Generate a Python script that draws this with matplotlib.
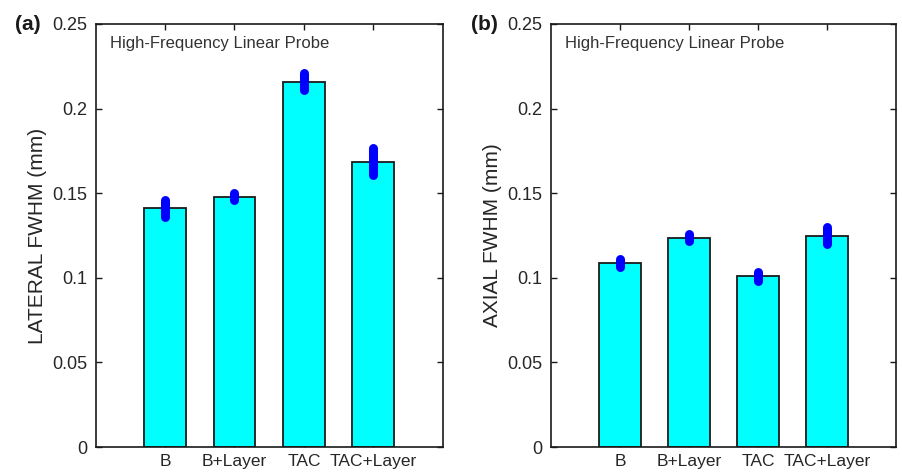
import matplotlib.pyplot as plt
import numpy as np

plt.rcParams['font.family'] = ['Liberation Sans', 'DejaVu Sans']

groups = ['B', 'B+Layer', 'TAC', 'TAC+Layer']
lateral = [0.141, 0.148, 0.216, 0.1685]
lateral_err = [0.005, 0.002, 0.0053, 0.008]
axial = [0.1088, 0.1238, 0.1008, 0.1250]
axial_err = [0.0025, 0.0023, 0.0025, 0.005]

yticks = [0, 0.05, 0.1, 0.15, 0.2, 0.25]
yticklabels = ['0', '0.05', '0.1', '0.15', '0.2', '0.25']

txt = '#262626'

fig = plt.figure(figsize=(9.03, 4.74), dpi=100)

W, H = 903.0, 474.0
ax_a = fig.add_axes([95.7 / W, 27 / H, 347 / W, 423 / H])
ax_b = fig.add_axes([551 / W, 27 / H, 345 / W, 423 / H])


def draw_panel(ax, vals, errs, ylabel, tag):
    x = np.arange(1, len(vals) + 1)
    ax.bar(x, vals, width=0.6, color='#00ffff', edgecolor='#1a1a1a',
           linewidth=1.3, zorder=2)
    eb = ax.errorbar(x, vals, yerr=errs, fmt='none', ecolor='#0000ff',
                     elinewidth=6.5, capsize=0, zorder=3)
    for lc in eb.lines[2]:
        lc.set_capstyle('round')
    ax.set_xlim(0, 5)
    ax.set_ylim(0, 0.25)
    ax.set_xticks(x)
    ax.set_xticklabels(groups, fontsize=12.5, color=txt)
    ax.set_yticks(yticks)
    ax.set_yticklabels(yticklabels, fontsize=13, color=txt)
    ax.tick_params(direction='in', top=True, right=True, length=4,
                   width=1.0, color='#1a1a1a', pad=6)
    ax.tick_params(axis='x', pad=5)
    for s in ax.spines.values():
        s.set_linewidth(1.2)
        s.set_color('#1a1a1a')
    ax.set_ylabel(ylabel, fontsize=15, color=txt, labelpad=4)
    ax.text(0.042, 0.953, 'High-Frequency Linear Probe', transform=ax.transAxes,
            fontsize=12, color='#333333', va='center', ha='left')
    ax.text(-0.232, 1.0, tag, transform=ax.transAxes, fontsize=15,
            fontweight='bold', color='#1a1a1a', va='center', ha='left')


draw_panel(ax_a, lateral, lateral_err, 'LATERAL FWHM (mm)', '(a)')
draw_panel(ax_b, axial, axial_err, 'AXIAL FWHM (mm)', '(b)')

fig.savefig('out.png', dpi=100)
